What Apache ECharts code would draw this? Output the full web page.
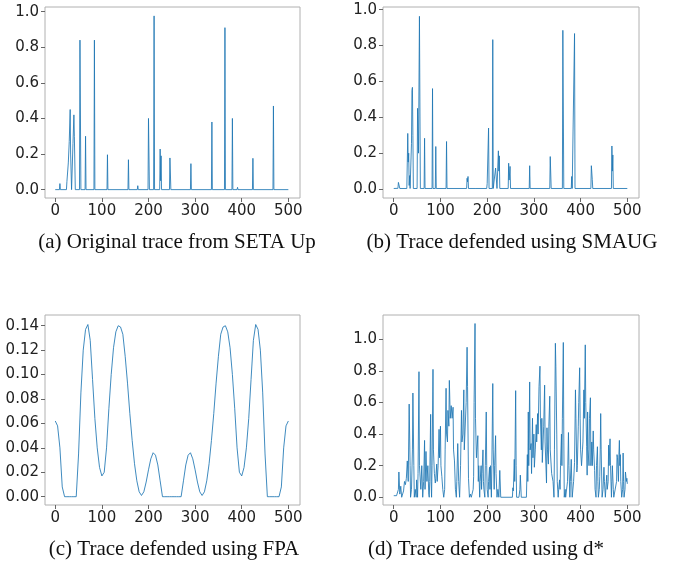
<!DOCTYPE html>
<html>
<head>
<meta charset="utf-8">
<script src="https://cdn.jsdelivr.net/npm/echarts@6/dist/echarts.min.js"></script>
<style>
  html, body { margin: 0; padding: 0; background: #fff; }
  #main { width: 678px; height: 567px; }
</style>
</head>
<body>
<div id="main"></div>
<script>
// captions under each panel
let captions = ["(a) Original trace from SETA Up", "(b) Trace defended using SMAUG",
                "(c) Trace defended using FPA", "(d) Trace defended using d*"];

let xTicks = [0, 100, 200, 300, 400, 500];
let yTicksUnit = [0, 0.2, 0.4, 0.6, 0.8, 1.0];
let yTicksFpa = [0, 0.02, 0.04, 0.06, 0.08, 0.10, 0.12, 0.14];

// (a) original trace: spikes on a flat zero line, [x, y]
let origTrace = [[0,0],[9,0],[10,0.034],[11,0],[24,0],[25,0.045],[26,0.05],[28,0.15],[30,0.27],[32,0.45],[33,0.2],[35,0],[36,0],[38,0.26],[40,0.42],[41,0.3],[43,0],
  [52,0],[53,0.84],[54,0.84],[55,0],[64,0],[65,0.30],[66,0],[83,0],[84,0.84],[85,0],[111,0],[112,0.196],[113,0],
  [156,0],[157,0.168],[158,0],[176,0],[177,0.022],[178,0],[199,0],[200,0.40],[201,0.40],[202,0],[211,0],[212,0.976],[213,0],
  [224,0],[225,0.228],[226,0.05],[227,0.19],[228,0],[245,0],[246,0.178],[247,0.178],[248,0],[290,0],[291,0.146],[292,0],
  [335,0],[336,0.38],[337,0],[363,0],[364,0.91],[365,0],[379,0],[380,0.40],[381,0],[390,0],[391,0.013],[392,0],
  [423,0],[424,0.176],[425,0],[467,0],[468,0.47],[469,0],[500,0]];

// (b) SMAUG
let smaugTrace = [[0,0.003],[9,0.004],[10,0.037],[12,0.037],[13,0.003],[28,0.003],[29,0.15],[30,0.31],[31,0.15],[32,0.2],[33,0.02],[34,0.075],[35,0.003],
  [37,0.003],[38,0.255],[39,0.55],[40,0.567],[41,0.3],[42,0.003],[50,0.003],[51,0.45],[52,0.45],[53,0.2],[55,0.963],[56,0.963],[57,0.003],
  [65,0.003],[66,0.283],[67,0.003],[82,0.003],[83,0.56],[84,0.003],[89,0.003],[90,0.237],[91,0.003],[112,0.003],[113,0.265],[114,0.003],
  [156,0.003],[157,0.06],[158,0.04],[159,0.07],[160,0.003],[176,0.003],[177,0.008],[178,0.003],[199,0.003],[200,0.03],[201,0.03],[203,0.34],[204,0.003],
  [211,0.003],[212,0.833],[213,0.003],[217,0.003],[218,0.117],[220,0.117],[221,0.003],[224,0.213],[225,0.1],[226,0.185],[227,0.003],
  [245,0.003],[246,0.144],[247,0.05],[249,0.126],[250,0.003],[290,0.003],[291,0.13],[292,0.003],[334,0.003],[335,0.181],[336,0.181],[337,0.003],
  [361,0.003],[362,0.885],[363,0.885],[364,0.003],[380,0.003],[381,0.07],[382,0.003],[386,0.003],[387,0.867],[388,0.003],
  [422,0.003],[423,0.13],[424,0.13],[425,0.052],[426,0.003],[466,0.003],[467,0.24],[468,0.1],[469,0.19],[470,0.003],[500,0.003]];

// (c) FPA: smooth wave, sampled every 5
let fpaX = [];
for (let i = 0; i <= 100; i++) fpaX.push(i * 5);
let fpaY = [0.062,0.058,0.040,0.008,0,0,0,0,0,0,0.035,0.085,0.120,0.137,0.141,0.128,0.096,0.064,0.040,0.024,
  0.017,0.020,0.040,0.072,0.100,0.122,0.135,0.140,0.139,0.133,0.115,0.093,0.068,0.046,0.027,0.013,0.004,0.001,0.004,0.012,
  0.022,0.031,0.036,0.034,0.026,0.013,0,0,0,0,0,0,0,0,0,0.013,0.026,0.034,0.036,0.031,
  0.022,0.012,0.004,0.001,0.004,0.013,0.027,0.046,0.068,0.093,0.115,0.133,0.139,0.140,0.135,0.122,0.100,0.072,0.040,0.020,
  0.017,0.024,0.040,0.064,0.096,0.128,0.141,0.137,0.120,0.085,0.035,0,0,0,0,0,0,0.008,0.040,0.058,0.062];

// (d) d*
let dstarTrace = [[0,0.01],[2,0],[4,0.02],[6,0.01],[8,0],[10,0.05],[11,0.16],[13,0.02],[15,0.07],[17,0],[19,0],[21,0.04],[23,0.1],[25,0.08],[27,0.12],[29,0.23],[31,0.1],[33,0.59],[35,0.2],[36,0],
  [38,0.05],[40,0.3],[41,0.66],[43,0.2],[44,0],[46,0.05],[48,0],[49,0.11],[51,0],[52,0.15],[54,0.795],[55,0.2],[57,0.19],[58,0.05],[60,0.2],[62,0],[64,0.1],[66,0.36],[67,0.05],[69,0.29],
  [71,0.1],[73,0.2],[75,0.02],[76,0],[77,0.1],[79,0.525],[80,0.1],[81,0],[82,0.2],[84,0.81],[85,0.3],[87,0.15],[89,0.09],[90,0.12],[92,0.21],[93,0.1],[95,0.2],[97,0.43],[98,0.25],[100,0.45],
  [101,0.2],[103,0.13],[105,0.05],[107,0],[109,0.05],[110,0.3],[112,0.69],[113,0.4],[115,0.35],[116,0.55],[118,0.45],[119,0.74],[121,0.5],[123,0.58],[125,0.5],[127,0.57],[128,0.3],[130,0.23],[132,0.05],[134,0],
  [135,0.1],[137,0.34],[139,0.1],[141,0],[143,0.2],[145,0.55],[146,0.35],[148,0.4],[150,0.68],[151,0.3],[153,0.29],[155,0.6],[157,0.95],[158,0.7],[160,0.12],[162,0],[164,0.02],[166,0],[168,0.01],[170,0.05],
  [171,0.13],[172,0.6],[174,1.10],[175,0.5],[177,0.25],[178,0.3],[180,0.39],[181,0.1],[182,0.2],[184,0],[185,0.1],[187,0.2],[188,0.05],[189,0.15],[191,0.3],[192,0.1],[193,0.05],[195,0],[196,0.2],[198,0.54],
  [199,0.2],[200,0.05],[202,0],[203,0.1],[205,0.19],[206,0.05],[207,0.2],[209,0],[210,0.2],[212,0.72],[213,0.3],[215,0.05],[216,0.2],[218,0.39],[219,0.15],[221,0],[223,0.05],[225,0],[227,0.17],[229,0],
  [254,0],[255,0.06],[256,0.04],[258,0.24],[259,0.1],[261,0.675],[262,0.2],[263,0],[268,0],[270,0.05],[271,0.14],[273,0],[284,0],[286,0.27],[287,0.1],[288,0.54],[289,0.2],[291,0.73],[292,0.3],[294,0.34],
  [295,0.15],[297,0.5],[298,0.25],[300,0.4],[301,0.19],[303,0.3],[305,0.46],[306,0.35],[308,0.53],[309,0.4],[311,0.7],[313,0.83],[314,0.5],[316,0.3],[317,0.5],[318,0.22],[320,0.22],[321,0.45],[323,0.71],[324,0.35],
  [325,0.34],[327,0.09],[328,0.44],[329,0.3],[331,0.21],[332,0.45],[334,0.64],[335,0.3],[337,0.3],[338,0.15],[340,0.15],[341,0.1],[343,0],[344,0.3],[346,0.975],[347,0.83],[348,0.83],[349,0.4],[350,0.1],[352,0],
  [353,0.05],[355,0.11],[356,0.05],[357,0.2],[359,0.4],[360,0.2],[361,0.5],[363,0.98],[364,0.4],[365,0],[367,0.05],[368,0],[370,0],[372,0.1],[374,0.41],[375,0.2],[377,0],[378,0.1],[380,0.24],[381,0.1],
  [382,0],[384,0],[385,0.1],[387,0.22],[389,0.68],[390,0.5],[392,0.16],[393,0.2],[395,0.45],[396,0.6],[398,0.82],[399,0.5],[400,0.3],[402,0.2],[404,0.3],[405,0.35],[407,0.68],[408,0.5],[410,0.965],[411,0.6],
  [413,0.32],[414,0.14],[415,0.54],[416,0.3],[418,0.2],[419,0.5],[421,0.63],[422,0.2],[424,0.35],[425,0.2],[427,0.42],[428,0.3],[430,0.17],[431,0.05],[433,0],[434,0.2],[436,0.32],[437,0.1],[438,0],[440,0.05],
  [441,0.13],[442,0.3],[443,0.53],[444,0.3],[446,0],[448,0.05],[450,0.19],[451,0.1],[453,0],[455,0.1],[456,0.14],[457,0.05],[459,0.1],[460,0.33],[461,0.2],[463,0.37],[464,0.2],[466,0],[467,0.1],[468,0.2],
  [470,0.05],[471,0],[475,0],[477,0.1],[478,0.27],[479,0.25],[481,0.1],[482,0.27],[483,0.36],[484,0.2],[485,0.27],[486,0.1],[488,0],[490,0.05],[491,0.28],[492,0.1],[493,0],[495,0.05],[496,0.16],[497,0.15],
  [498,0.1],[499,0.12],[500,0.085]];

let fpaTrace = fpaX.map((x, i) => [x, fpaY[i]]);

// panel boxes (left, top, width, height) and axis ranges
let boxes = [[45, 7, 255, 191], [383, 7, 256, 191], [45, 315, 255, 190], [383, 315, 256, 190]];
let xRanges = [[-22, 525], [-23, 525], [-22, 525], [-23, 525]];
let yRanges = [[-0.047, 1.026], [-0.05, 1.015], [-0.0068, 0.1488], [-0.049, 1.154]];
let yTickSets = [yTicksUnit, yTicksUnit, yTicksFpa, yTicksUnit];
let yDigits = [1, 1, 2, 1];
let traces = [origTrace, smaugTrace, fpaTrace, dstarTrace];
let captionPos = [[177, 242], [512, 242], [174, 549], [486, 549]];

let tickFont = {fontSize: 15, color: '#222', fontFamily: 'DejaVu Sans'};

let option = {
    animation: false,
    grid: boxes.map(b => ({
        left: b[0], top: b[1], width: b[2], height: b[3],
        show: true, borderColor: '#b0b0b0', borderWidth: 1, backgroundColor: '#fff'
    })),
    xAxis: boxes.map((b, i) => ({
        type: 'value', gridIndex: i, min: xRanges[i][0], max: xRanges[i][1],
        position: 'bottom',
        axisLine: {show: false, onZero: false},
        splitLine: {show: false},
        axisTick: {show: true, inside: false, length: 4, customValues: xTicks, lineStyle: {color: '#666'}},
        axisLabel: Object.assign({margin: 6, customValues: xTicks}, tickFont)
    })),
    yAxis: boxes.map((b, i) => ({
        type: 'value', gridIndex: i, min: yRanges[i][0], max: yRanges[i][1],
        position: 'left',
        axisLine: {show: false, onZero: false},
        splitLine: {show: false},
        axisTick: {show: true, inside: false, length: 4, customValues: yTickSets[i], lineStyle: {color: '#666'}},
        axisLabel: Object.assign({margin: 6, customValues: yTickSets[i],
            formatter: v => v.toFixed(yDigits[i])}, tickFont)
    })),
    series: traces.map((d, i) => ({
        type: 'line', xAxisIndex: i, yAxisIndex: i, data: d,
        showSymbol: false, symbol: 'none',
        lineStyle: {color: '#1f77b4', width: 1, opacity: 0.85}
    })),
    graphic: captions.map((t, i) => ({
        type: 'text', x: captionPos[i][0], y: captionPos[i][1],
        style: {text: t, font: '21px "Liberation Serif"', fill: '#111',
            textAlign: 'center', textVerticalAlign: 'middle'}
    }))
};

let myChart = echarts.init(document.getElementById('main'), null, {renderer: 'canvas'});
myChart.setOption(option);
</script>
</body>
</html>
